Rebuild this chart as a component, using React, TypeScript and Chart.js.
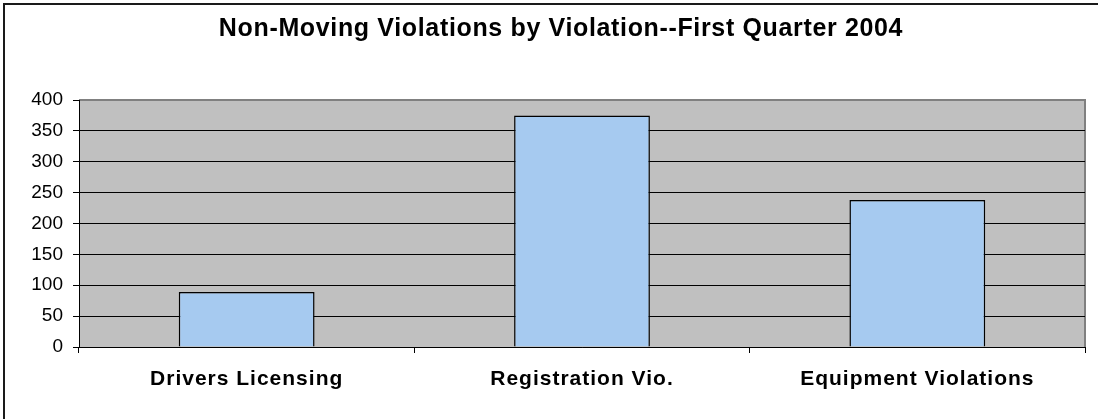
import React, { useEffect, useRef } from "react";
import { Chart, registerables } from "chart.js";

Chart.register(...registerables);

const TITLE = "Non-Moving Violations by Violation--First Quarter 2004";
const categories = ["Drivers Licensing", "Registration Vio.", "Equipment Violations"];
const values = [89, 375, 238];
const yMin = 0;
const yMax = 400;
const yStep = 50;

const FONT = "'Liberation Sans', Arial, sans-serif";

const framePlugin = {
  id: "frame",
  afterLayout(chart: any) {
    const s = chart.scales.x;
    if (s && !s.__spaced) {
      const orig = s.drawLabels.bind(s);
      s.drawLabels = (ca: any) => {
        const ctx = chart.ctx;
        ctx.save();
        (ctx as any).letterSpacing = "1px";
        orig(ca);
        ctx.restore();
      };
      s.__spaced = true;
    }
  },
  beforeDraw(chart: any) {
    const { ctx, chartArea, width, height } = chart;
    ctx.save();
    ctx.fillStyle = "#ffffff";
    ctx.fillRect(0, 0, width, height);
    // outer border (clipped box)
    ctx.strokeStyle = "#1a1a1a";
    ctx.lineWidth = 2;
    ctx.beginPath();
    ctx.moveTo(4, height + 5);
    ctx.lineTo(4, 4);
    ctx.lineTo(width + 5, 4);
    ctx.stroke();
    // plot background
    ctx.fillStyle = "#C0C0C0";
    ctx.fillRect(chartArea.left, chartArea.top, chartArea.right - chartArea.left, chartArea.bottom - chartArea.top);
    // top / right plot border
    ctx.strokeStyle = "#808080";
    ctx.lineWidth = 2;
    ctx.beginPath();
    ctx.moveTo(chartArea.left, chartArea.top);
    ctx.lineTo(chartArea.right, chartArea.top);
    ctx.lineTo(chartArea.right, chartArea.bottom);
    ctx.stroke();
    // title
    ctx.fillStyle = "#000";
    ctx.font = `bold 25px ${FONT}`;
    (ctx as any).letterSpacing = "0.65px";
    ctx.textAlign = "center";
    ctx.textBaseline = "alphabetic";
    ctx.fillText(TITLE, 561, 36);
    ctx.restore();
  },
};

export default function App() {
  const ref = useRef<HTMLCanvasElement | null>(null);
  useEffect(() => {
    if (!ref.current) return;
    const chart = new Chart(ref.current, {
      type: "bar",
      data: {
        labels: categories,
        datasets: [
          {
            data: values,
            backgroundColor: "#A6CAF0",
            borderColor: "#000000",
            borderWidth: 1.5,
            categoryPercentage: 1,
            barPercentage: 0.405,
          },
        ],
      },
      options: {
        animation: false,
        responsive: false,
        maintainAspectRatio: false,
        layout: { padding: { top: 100, right: 13, bottom: 0, left: 0 } },
        plugins: {
          legend: { display: false },
          title: { display: false },
          tooltip: { enabled: false },
        },
        scales: {
          x: {
            offset: true,
            grid: {
              display: true,
              offset: true,
              drawOnChartArea: false,
              drawTicks: true,
              tickLength: 6,
              color: "#000",
            },
            border: { display: true, color: "#000", width: 1 },
            ticks: {
              color: "#000",
              font: { family: FONT, size: 21, weight: "bold" },
              padding: 14,
              maxRotation: 0,
              autoSkip: false,
            },
            afterFit(scale: any) {
              scale.height = 72;
            },
          },
          y: {
            min: yMin,
            max: yMax,
            ticks: {
              stepSize: yStep,
              color: "#000",
              font: { family: FONT, size: 19 },
              padding: 10,
            },
            grid: {
              color: (c: any) => (c.tick && c.tick.value === yMax ? "rgba(0,0,0,0)" : "#000"),
              tickColor: "#000",
              tickLength: 6,
              lineWidth: 1,
            },
            border: { display: true, color: "#000", width: 1 },
            afterFit(scale: any) {
              scale.width = 79;
            },
          },
        },
      },
      plugins: [framePlugin],
    });
    return () => chart.destroy();
  }, []);
  return (
    <div style={{ position: "fixed", left: 0, top: 0, width: 1098, height: 419, background: "#fff" }}>
      <canvas ref={ref} width={1098} height={419} style={{ display: "block", width: 1098, height: 419 }} />
    </div>
  );
}
